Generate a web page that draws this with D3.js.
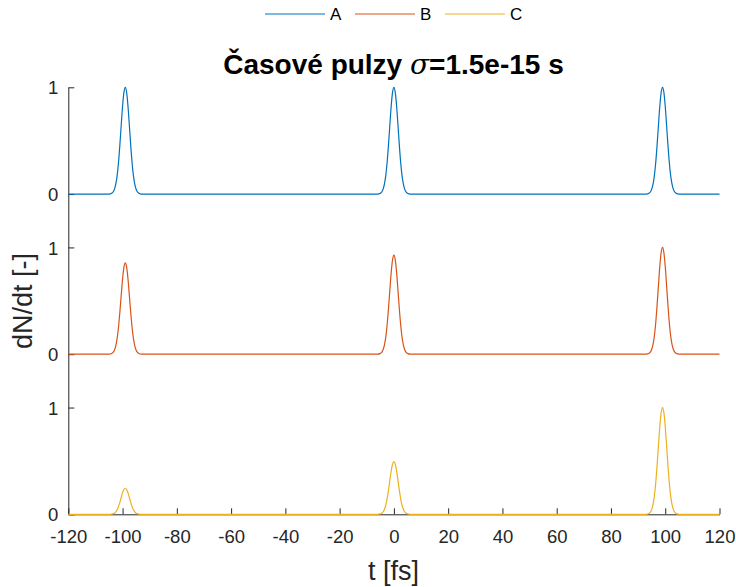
<!DOCTYPE html>
<html>
<head>
<meta charset="utf-8">
<script src="https://cdn.jsdelivr.net/npm/d3@7"></script>
<style>
  html, body { margin: 0; padding: 0; background: #fff; }
  svg { display: block; font-family: "Liberation Sans", Arial, Helvetica, sans-serif; }
</style>
</head>
<body>
<svg id="chart" width="736" height="587"></svg>
<script>
// ---------- data ----------
const categories = ["A", "B", "C"];
const seriesColors = ["#0072BD", "#D95319", "#EDB120"];
// vertical offset of each series inside the stacked axis (y units)
const seriesOffsets = [3, 1.5, 0];
// pulse centres [fs]
const peakCenters = [-99, 0, 99];
// pulse amplitudes
const peakA = [1.0, 1.0, 1.0];
const peakB = [0.856, 0.928, 1.0];
const peakC = [0.244, 0.493, 1.0];
// normalised pulse profile (offset from centre [fs] -> height)
const pulseOffsets = [-6, -5, -4.5, -4, -3.5, -3, -2.5, -2, -1.5, -1, -0.5, 0, 0.5, 1, 1.5, 2, 2.5, 3, 3.5, 4, 4.5, 5, 6];
const pulseShape   = [0, 0.008, 0.019, 0.044, 0.092, 0.172, 0.295, 0.458, 0.644, 0.823, 0.952, 1, 0.952, 0.823, 0.644, 0.458, 0.295, 0.172, 0.092, 0.044, 0.019, 0.008, 0];
const xRange = [-120, 120];
const xTicks = [-120, -100, -80, -60, -40, -20, 0, 20, 40, 60, 80, 100, 120];
const yTickPositions = [0, 1, 1.5, 2.5, 3, 4];
const yTickLabels = ["0", "1", "0", "1", "0", "1"];
const titleMain = "Časové pulzy ";
const titleSigma = "σ";
const titleRest = "=1.5e-15 s";
const xLabel = "t [fs]";
const yLabel = "dN/dt [-]";

const seriesAmps = [peakA, peakB, peakC];

// ---------- layout ----------
const svg = d3.select("#chart");
const plotLeft = 68.3, plotRight = 719.5, plotTop = 87.3, plotBottom = 514.3;
const x = d3.scaleLinear().domain(xRange).range([plotLeft, plotRight]);
const y = d3.scaleLinear().domain([0, 4]).range([plotBottom, plotTop]);
const axisColor = "#262626";

function buildSeries(amps, offset) {
  const pts = [[xRange[0], offset]];
  peakCenters.forEach((c, i) => {
    pulseOffsets.forEach((o, j) => pts.push([c + o, offset + amps[i] * pulseShape[j]]));
  });
  pts.push([xRange[1], offset]);
  return pts;
}

const line = d3.line().x(d => x(d[0])).y(d => y(d[1])).curve(d3.curveMonotoneX);

// ---------- axes ----------
const xAxis = d3.axisBottom(x).tickValues(xTicks).tickSize(-6).tickSizeOuter(0).tickFormat(d3.format("d"));
const gx = svg.append("g").attr("transform", `translate(0,${plotBottom})`).call(xAxis);
gx.select(".domain").attr("stroke", axisColor);
gx.selectAll(".tick line").attr("stroke", axisColor);
gx.selectAll(".tick text").attr("fill", axisColor).attr("font-size", 18.5).attr("y", 29).attr("dy", 0)
  .text(d => d < 0 ? "-" + Math.abs(d) : d);

const yAxis = d3.axisLeft(y).tickValues(yTickPositions).tickSize(-6).tickSizeOuter(0)
  .tickFormat((d, i) => yTickLabels[i]);
const gy = svg.append("g").attr("transform", `translate(${plotLeft},0)`).call(yAxis);
gy.select(".domain").attr("stroke", axisColor);
gy.selectAll(".tick line").attr("stroke", axisColor);
gy.selectAll(".tick text").attr("fill", axisColor).attr("font-size", 18.5).attr("x", -10).attr("dy", "0.36em");
svg.selectAll(".tick text").attr("font-family", "Liberation Sans, Arial, sans-serif");

// ---------- series ----------
categories.forEach((cat, i) => {
  svg.append("path")
    .datum(buildSeries(seriesAmps[i], seriesOffsets[i]))
    .attr("fill", "none")
    .attr("stroke", seriesColors[i])
    .attr("stroke-width", 1.2)
    .attr("d", line);
});

// ---------- labels ----------
const title = svg.append("text").attr("x", 393.5).attr("y", 74).attr("text-anchor", "middle")
  .attr("font-size", 28).attr("font-weight", "bold").attr("fill", "#000");
title.append("tspan").text(titleMain);
title.append("tspan").attr("font-style", "italic").attr("font-family", "DejaVu Serif, serif").attr("font-weight", "normal").text(titleSigma);
title.append("tspan").text(titleRest);

svg.append("text").attr("x", 393.5).attr("y", 580).attr("text-anchor", "middle")
  .attr("font-size", 27).attr("fill", axisColor).text(xLabel);

svg.append("text").attr("transform", `translate(32,301) rotate(-90)`).attr("text-anchor", "middle")
  .attr("font-size", 27).attr("fill", axisColor).text(yLabel);

// ---------- legend ----------
const legendX = [265, 355, 445];
const legend = svg.append("g");
categories.forEach((cat, i) => {
  legend.append("line").attr("x1", legendX[i]).attr("x2", legendX[i] + 60).attr("y1", 14).attr("y2", 14)
    .attr("stroke", seriesColors[i]).attr("stroke-width", 1.2);
  legend.append("text").attr("x", legendX[i] + 65).attr("y", 14).attr("dy", "0.36em")
    .attr("font-size", 17).attr("fill", "#000").text(cat);
});
</script>
</body>
</html>
